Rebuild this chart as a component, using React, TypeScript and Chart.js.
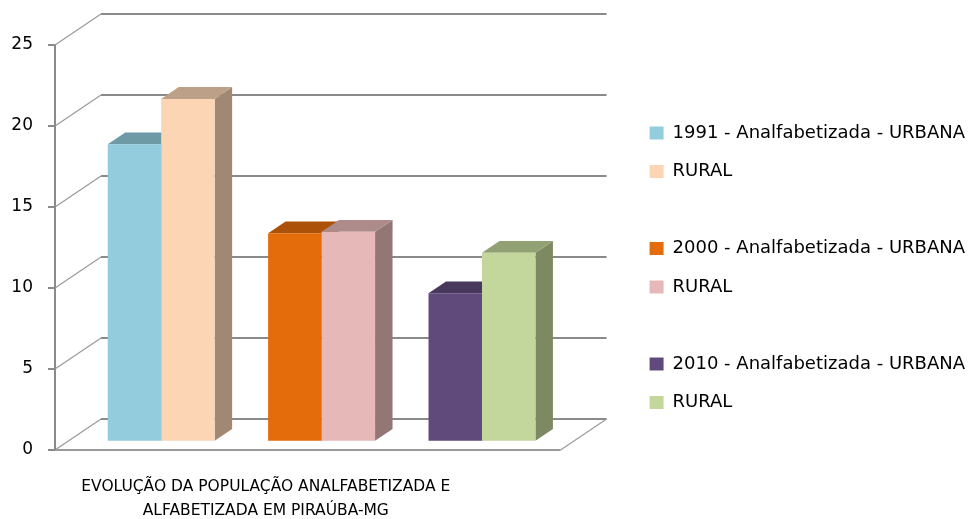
import React, { useEffect, useRef } from "react";
import { Chart, registerables } from "chart.js";

Chart.register(...registerables);

// ---- data ----
const categories: string[][] = [
  ["EVOLUÇÃO DA POPULAÇÃO ANALFABETIZADA E", "ALFABETIZADA EM PIRAÚBA-MG"],
];
const seriesLabels: string[] = [
  "1991 - Analfabetizada - URBANA",
  "RURAL",
  "",
  "2000 - Analfabetizada - URBANA",
  "RURAL",
  "",
  "2010 - Analfabetizada - URBANA",
  "RURAL",
];
const seriesValues: (number | null)[] = [18.3, 21.1, null, 12.8, 12.9, null, 9.1, 11.6];
const seriesColors: string[] = [
  "#93CDDD",
  "#FCD5B5",
  "rgba(0,0,0,0)",
  "#E46C0A",
  "#E6B9B8",
  "rgba(0,0,0,0)",
  "#604A7B",
  "#C3D69B",
];
const yTicks: number[] = [0, 5, 10, 15, 20, 25];

// ---- 3D styling ----
const DEPTH_X = 46;
const DEPTH_Y = -31;
const BAR_PLANE = 0.3; // fraction of depth where bar fronts sit
const BAR_DEPTH = 0.38; // bar thickness as fraction of depth
const FONT = "'DejaVu Sans', sans-serif";

function shade(hex: string, f: number): string {
  const m = hex.match(/^#([0-9a-f]{2})([0-9a-f]{2})([0-9a-f]{2})$/i);
  if (!m) return hex;
  const c = [m[1], m[2], m[3]].map((h) => Math.round(parseInt(h, 16) * f));
  return `rgb(${c[0]},${c[1]},${c[2]})`;
}

const frame3d = {
  id: "frame3d",
  beforeDatasetsDraw(chart: any) {
    const { ctx, chartArea: a, scales } = chart;
    const y = scales.y;
    ctx.save();
    yTicks.forEach((t) => {
      const py = y.getPixelForValue(t);
      ctx.strokeStyle = "#8a8a8a";
      ctx.lineWidth = 2;
      ctx.beginPath();
      ctx.moveTo(a.left + DEPTH_X, py + DEPTH_Y);
      ctx.lineTo(a.right + DEPTH_X, py + DEPTH_Y);
      ctx.stroke();
      ctx.strokeStyle = "#9a9a9a";
      ctx.lineWidth = 1.2;
      ctx.beginPath();
      ctx.moveTo(a.left, py);
      ctx.lineTo(a.left + DEPTH_X, py + DEPTH_Y);
      ctx.stroke();
      ctx.strokeStyle = "#8a8a8a";
      ctx.lineWidth = 2;
      ctx.beginPath();
      ctx.moveTo(a.left - 7, py);
      ctx.lineTo(a.left, py);
      ctx.stroke();
    });
    const p0 = y.getPixelForValue(0);
    const pTop = y.getPixelForValue(25);
    ctx.strokeStyle = "#9a9a9a";
    ctx.lineWidth = 2;
    ctx.beginPath();
    ctx.moveTo(a.left, p0);
    ctx.lineTo(a.right, p0);
    ctx.stroke();
    ctx.lineWidth = 1.2;
    ctx.beginPath();
    ctx.moveTo(a.right, p0);
    ctx.lineTo(a.right + DEPTH_X, p0 + DEPTH_Y);
    ctx.stroke();
    ctx.lineWidth = 2;
    ctx.strokeStyle = "#8a8a8a";
    ctx.beginPath();
    ctx.moveTo(a.left, pTop);
    ctx.lineTo(a.left, p0);
    ctx.stroke();
    ctx.restore();

    // bars: shift into depth, draw side and top faces (fronts drawn by Chart.js)
    ctx.save();
    ctx.translate(DEPTH_X * BAR_PLANE, DEPTH_Y * BAR_PLANE);
    const bdx = DEPTH_X * BAR_DEPTH;
    const bdy = DEPTH_Y * BAR_DEPTH;
    chart.data.datasets.forEach((ds: any, i: number) => {
      const meta = chart.getDatasetMeta(i);
      meta.data.forEach((el: any, j: number) => {
        const v = ds.data[j];
        if (v == null) return;
        const { x, y: top, base, width } = el.getProps(["x", "y", "base", "width"], true);
        const x0 = x - width / 2;
        const x1 = x + width / 2;
        const col = seriesColors[i];
        ctx.fillStyle = shade(col, 0.64);
        ctx.beginPath();
        ctx.moveTo(x1, top);
        ctx.lineTo(x1 + bdx, top + bdy);
        ctx.lineTo(x1 + bdx, base + bdy);
        ctx.lineTo(x1, base);
        ctx.closePath();
        ctx.fill();
        ctx.fillStyle = shade(col, 0.75);
        ctx.beginPath();
        ctx.moveTo(x0, top);
        ctx.lineTo(x1, top);
        ctx.lineTo(x1 + bdx, top + bdy);
        ctx.lineTo(x0 + bdx, top + bdy);
        ctx.closePath();
        ctx.fill();
      });
    });
  },
  afterDatasetsDraw(chart: any) {
    chart.ctx.restore();
  },
};

export default function App() {
  const ref = useRef<HTMLCanvasElement>(null);
  useEffect(() => {
    const chart = new Chart(ref.current as HTMLCanvasElement, {
      type: "bar",
      data: {
        labels: categories as any,
        datasets: seriesLabels.map((label, i) => ({
          label,
          data: [seriesValues[i]],
          backgroundColor: seriesColors[i],
          borderWidth: 0,
          categoryPercentage: 0.846,
          barPercentage: 1.0,
          clip: false as any,
        })),
      },
      options: {
        animation: false,
        responsive: false,
        layout: { padding: { top: 45, bottom: -2, left: 0, right: -3 } },
        scales: {
          x: {
            grid: { display: false, drawTicks: false },
            border: { display: false },
            ticks: {
              autoSkip: false,
              maxRotation: 0,
              minRotation: 0,
              padding: 25,
              labelOffset: -42,
              color: "#000",
              font: { family: FONT, size: 15.5, lineHeight: "24px" },
            },
            afterFit: (s: any) => {
              s.height = 71;
            },
          },
          y: {
            min: 0,
            max: 25,
            grid: { display: false, drawTicks: false },
            border: { display: false },
            ticks: {
              stepSize: 5,
              padding: 22,
              color: "#000",
              font: { family: FONT, size: 17 },
            },
            afterFit: (s: any) => {
              s.width = 55;
            },
          },
          gap: {
            position: "right",
            display: true,
            grid: { display: false, drawTicks: false },
            border: { display: false },
            ticks: { display: false },
            afterFit: (s: any) => {
              s.width = 68.5;
            },
          },
        },
        plugins: {
          legend: {
            position: "right",
            align: "start",
            maxWidth: 420,
            title: { display: true, text: "", padding: 0, font: { size: 10, lineHeight: "58.5px" } },
            labels: {
              boxWidth: 14,
              boxHeight: 13,
              padding: 20.5,
              color: "#000",
              font: { family: FONT, size: 18 },
            },
          },
          tooltip: { enabled: false },
        },
      },
      plugins: [frame3d],
    });
    return () => chart.destroy();
  }, []);
  return (
    <div style={{ position: "absolute", left: 0, top: 0, width: 972, height: 519, background: "#fff" }}>
      <canvas ref={ref} width={972} height={519} />
    </div>
  );
}
